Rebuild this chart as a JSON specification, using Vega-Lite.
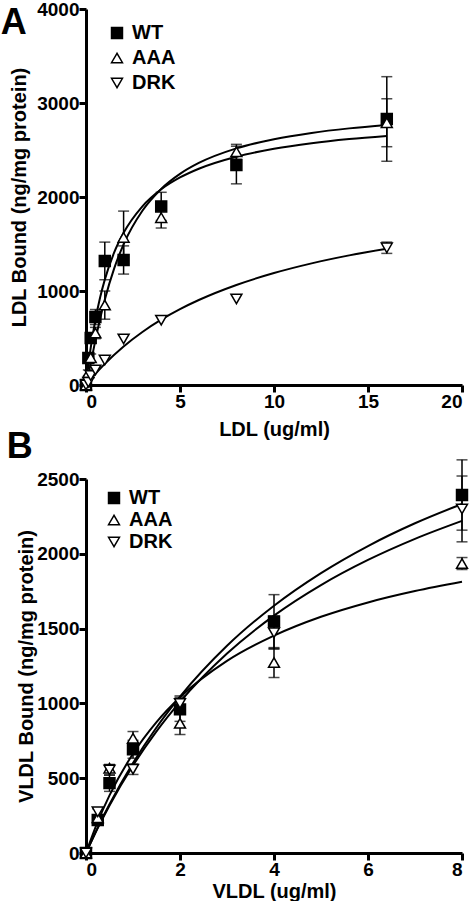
{
  "$schema": "https://vega.github.io/schema/vega-lite/v6.json",
  "padding": {"top": 0, "left": 0, "right": 0, "bottom": 0},
  "background": "white",
  "spacing": -10,
  "align": "none",
  "center": false,
  "config": {
    "font": "Liberation Sans",
    "view": {"stroke": null},
    "axis": {
      "grid": false,
      "format": "d",
      "domainColor": "black",
      "domainWidth": 3,
      "tickColor": "black",
      "tickWidth": 3,
      "tickSize": 7,
      "labelFont": "Liberation Sans",
      "labelFontWeight": "bold",
      "labelFontSize": 19,
      "labelColor": "black",
      "labelPadding": 0,
      "titleFont": "Liberation Sans",
      "titleFontWeight": "bold",
      "titleFontSize": 20,
      "titleColor": "black"
    },
    "legend": {
      "labelFont": "Liberation Sans",
      "labelFontSize": 20,
      "labelFontWeight": "bold",
      "labelColor": "black",
      "symbolSize": 120,
      "symbolStrokeWidth": 1.5,
      "padding": 0,
      "labelOffset": 5
    },
    "title": {"font": "Liberation Sans", "fontWeight": "bold", "color": "black"}
  },
  "resolve": {
    "scale": {"shape": "independent", "fill": "independent", "stroke": "independent"},
    "legend": {"shape": "independent", "fill": "independent", "stroke": "independent"}
  },
  "vconcat": [
    {
      "width": 376,
      "height": 376,
      "title": {"text": "A", "anchor": "start", "frame": "bounds", "fontSize": 36, "dx": -9, "dy": 42, "offset": 0},
      "encoding": {
        "x": {"field": "x", "type": "quantitative", "scale": {"domain": [0, 20], "nice": false}, "axis": {"values": [0, 5, 10, 15, 20], "title": "LDL (ug/ml)", "titlePadding": 8}},
        "y": {"field": "y", "type": "quantitative", "scale": {"domain": [0, 4000], "nice": false}, "axis": {"values": [0, 1000, 2000, 3000, 4000], "title": "LDL Bound (ng/mg protein)", "titlePadding": 7}}
      },
      "layer": [
        {
          "data": {"values": [
            {"fit": "WT", "x": 0, "y": 0}, {"fit": "WT", "x": 0.25, "y": 394}, {"fit": "WT", "x": 0.5, "y": 694}, {"fit": "WT", "x": 0.75, "y": 930}, {"fit": "WT", "x": 1, "y": 1121}, {"fit": "WT", "x": 1.5, "y": 1410}, {"fit": "WT", "x": 2, "y": 1619}, {"fit": "WT", "x": 3, "y": 1901}, {"fit": "WT", "x": 4, "y": 2082}, {"fit": "WT", "x": 5, "y": 2208}, {"fit": "WT", "x": 6, "y": 2301}, {"fit": "WT", "x": 8, "y": 2429}, {"fit": "WT", "x": 10, "y": 2513}, {"fit": "WT", "x": 12, "y": 2572}, {"fit": "WT", "x": 14, "y": 2616}, {"fit": "WT", "x": 16, "y": 2650},
            {"fit": "AAA", "x": 0, "y": 0}, {"fit": "AAA", "x": 0.25, "y": 228}, {"fit": "AAA", "x": 0.5, "y": 477}, {"fit": "AAA", "x": 0.75, "y": 705}, {"fit": "AAA", "x": 1, "y": 908}, {"fit": "AAA", "x": 1.5, "y": 1241}, {"fit": "AAA", "x": 2, "y": 1497}, {"fit": "AAA", "x": 3, "y": 1854}, {"fit": "AAA", "x": 4, "y": 2086}, {"fit": "AAA", "x": 5, "y": 2246}, {"fit": "AAA", "x": 6, "y": 2362}, {"fit": "AAA", "x": 8, "y": 2517}, {"fit": "AAA", "x": 10, "y": 2615}, {"fit": "AAA", "x": 12, "y": 2682}, {"fit": "AAA", "x": 14, "y": 2730}, {"fit": "AAA", "x": 16, "y": 2766},
            {"fit": "DRK", "x": 0, "y": 0}, {"fit": "DRK", "x": 0.25, "y": 61}, {"fit": "DRK", "x": 0.5, "y": 118}, {"fit": "DRK", "x": 1, "y": 225}, {"fit": "DRK", "x": 2, "y": 410}, {"fit": "DRK", "x": 3, "y": 564}, {"fit": "DRK", "x": 4, "y": 695}, {"fit": "DRK", "x": 5, "y": 807}, {"fit": "DRK", "x": 6, "y": 904}, {"fit": "DRK", "x": 8, "y": 1064}, {"fit": "DRK", "x": 10, "y": 1191}, {"fit": "DRK", "x": 12, "y": 1294}, {"fit": "DRK", "x": 14, "y": 1379}, {"fit": "DRK", "x": 16, "y": 1450}
          ]},
          "mark": {"type": "line", "stroke": "black", "strokeWidth": 2, "interpolate": "monotone"},
          "encoding": {"detail": {"field": "fit", "type": "nominal"}}
        },
        {
          "data": {"name": "ptsA"},
          "transform": [{"filter": "datum.err > 0"}],
          "mark": {"type": "errorbar", "ticks": true, "size": 11, "thickness": 1.5, "color": "black"},
          "encoding": {"yError": {"field": "err"}}
        },
        {
          "data": {"name": "ptsA"},
          "mark": {"type": "point", "filled": true, "strokeWidth": 1.5, "opacity": 1, "size": 120},
          "encoding": {
            "shape": {"field": "g", "type": "nominal", "scale": {"domain": ["WT", "AAA", "DRK"], "range": ["square", "triangle-up", "triangle-down"]}, "legend": {"title": null, "orient": "none", "legendX": 21, "legendY": 14, "rowPadding": 5}},
            "fill": {"field": "g", "type": "nominal", "scale": {"domain": ["WT", "AAA", "DRK"], "range": ["black", "white", "white"]}, "legend": {"title": null, "orient": "none", "legendX": 21, "legendY": 14, "rowPadding": 5}},
            "stroke": {"field": "g", "type": "nominal", "scale": {"domain": ["WT", "AAA", "DRK"], "range": ["black", "black", "black"]}, "legend": {"title": null, "orient": "none", "legendX": 21, "legendY": 14, "rowPadding": 5}}
          }
        }
      ]
    },
    {
      "width": 376,
      "height": 374,
      "title": {"text": "B", "anchor": "start", "frame": "bounds", "fontSize": 36, "dx": -10, "dy": 7, "offset": 0},
      "encoding": {
        "x": {"field": "x", "type": "quantitative", "scale": {"domain": [0, 8], "nice": false}, "axis": {"values": [0, 2, 4, 6, 8], "title": "VLDL (ug/ml)", "titlePadding": 2}},
        "y": {"field": "y", "type": "quantitative", "scale": {"domain": [0, 2500], "nice": false}, "axis": {"values": [0, 500, 1000, 1500, 2000, 2500], "title": "VLDL Bound (ng/mg protein)", "titlePadding": 0}}
      },
      "layer": [
        {
          "data": {"values": [
            {"fit": "WT", "x": 0, "y": 0}, {"fit": "WT", "x": 0.25, "y": 170}, {"fit": "WT", "x": 0.5, "y": 326}, {"fit": "WT", "x": 1, "y": 602}, {"fit": "WT", "x": 1.5, "y": 839}, {"fit": "WT", "x": 2, "y": 1045}, {"fit": "WT", "x": 3, "y": 1385}, {"fit": "WT", "x": 4, "y": 1653}, {"fit": "WT", "x": 5, "y": 1871}, {"fit": "WT", "x": 6, "y": 2052}, {"fit": "WT", "x": 7, "y": 2204}, {"fit": "WT", "x": 8, "y": 2333},
            {"fit": "DRK", "x": 0, "y": 0}, {"fit": "DRK", "x": 0.25, "y": 166}, {"fit": "DRK", "x": 0.5, "y": 318}, {"fit": "DRK", "x": 1, "y": 585}, {"fit": "DRK", "x": 1.5, "y": 813}, {"fit": "DRK", "x": 2, "y": 1010}, {"fit": "DRK", "x": 3, "y": 1333}, {"fit": "DRK", "x": 4, "y": 1587}, {"fit": "DRK", "x": 5, "y": 1791}, {"fit": "DRK", "x": 6, "y": 1959}, {"fit": "DRK", "x": 7, "y": 2100}, {"fit": "DRK", "x": 8, "y": 2220},
            {"fit": "AAA", "x": 0, "y": 0}, {"fit": "AAA", "x": 0.25, "y": 209}, {"fit": "AAA", "x": 0.5, "y": 385}, {"fit": "AAA", "x": 1, "y": 664}, {"fit": "AAA", "x": 1.5, "y": 875}, {"fit": "AAA", "x": 2, "y": 1041}, {"fit": "AAA", "x": 3, "y": 1284}, {"fit": "AAA", "x": 4, "y": 1453}, {"fit": "AAA", "x": 5, "y": 1579}, {"fit": "AAA", "x": 6, "y": 1675}, {"fit": "AAA", "x": 7, "y": 1751}, {"fit": "AAA", "x": 8, "y": 1813}
          ]},
          "mark": {"type": "line", "stroke": "black", "strokeWidth": 2, "interpolate": "monotone"},
          "encoding": {"detail": {"field": "fit", "type": "nominal"}}
        },
        {
          "data": {"name": "ptsB"},
          "transform": [{"filter": "datum.err > 0"}],
          "mark": {"type": "errorbar", "ticks": true, "size": 11, "thickness": 1.5, "color": "black"},
          "encoding": {"yError": {"field": "err"}}
        },
        {
          "data": {"name": "ptsB"},
          "mark": {"type": "point", "filled": true, "strokeWidth": 1.5, "opacity": 1, "size": 120},
          "encoding": {
            "shape": {"field": "g", "type": "nominal", "scale": {"domain": ["WT", "AAA", "DRK"], "range": ["square", "triangle-up", "triangle-down"]}, "legend": {"title": null, "orient": "none", "legendX": 18, "legendY": 9, "rowPadding": 2}},
            "fill": {"field": "g", "type": "nominal", "scale": {"domain": ["WT", "AAA", "DRK"], "range": ["black", "white", "white"]}, "legend": {"title": null, "orient": "none", "legendX": 18, "legendY": 9, "rowPadding": 2}},
            "stroke": {"field": "g", "type": "nominal", "scale": {"domain": ["WT", "AAA", "DRK"], "range": ["black", "black", "black"]}, "legend": {"title": null, "orient": "none", "legendX": 18, "legendY": 9, "rowPadding": 2}}
          }
        }
      ]
    }
  ],
  "datasets": {
    "ptsA": [
      {"g": "WT", "x": 0, "y": 0, "err": 0}, {"g": "WT", "x": 0.125, "y": 287, "err": 40}, {"g": "WT", "x": 0.25, "y": 500, "err": 50}, {"g": "WT", "x": 0.5, "y": 723, "err": 80}, {"g": "WT", "x": 1, "y": 1320, "err": 200}, {"g": "WT", "x": 2, "y": 1330, "err": 150}, {"g": "WT", "x": 4, "y": 1900, "err": 150}, {"g": "WT", "x": 8, "y": 2340, "err": 200}, {"g": "WT", "x": 16, "y": 2830, "err": 450},
      {"g": "AAA", "x": 0, "y": 0, "err": 0}, {"g": "AAA", "x": 0.125, "y": 130, "err": 30}, {"g": "AAA", "x": 0.25, "y": 290, "err": 40}, {"g": "AAA", "x": 0.5, "y": 553, "err": 60}, {"g": "AAA", "x": 1, "y": 850, "err": 150}, {"g": "AAA", "x": 2, "y": 1570, "err": 280}, {"g": "AAA", "x": 4, "y": 1780, "err": 110}, {"g": "AAA", "x": 8, "y": 2480, "err": 80}, {"g": "AAA", "x": 16, "y": 2790, "err": 255},
      {"g": "DRK", "x": 0, "y": 0, "err": 0}, {"g": "DRK", "x": 0.125, "y": 30, "err": 0}, {"g": "DRK", "x": 0.25, "y": 100, "err": 0}, {"g": "DRK", "x": 0.5, "y": 160, "err": 0}, {"g": "DRK", "x": 1, "y": 265, "err": 0}, {"g": "DRK", "x": 2, "y": 490, "err": 0}, {"g": "DRK", "x": 4, "y": 690, "err": 0}, {"g": "DRK", "x": 8, "y": 915, "err": 0}, {"g": "DRK", "x": 16, "y": 1460, "err": 60}
    ],
    "ptsB": [
      {"g": "WT", "x": 0, "y": 0, "err": 0}, {"g": "WT", "x": 0.25, "y": 220, "err": 30}, {"g": "WT", "x": 0.5, "y": 467, "err": 55}, {"g": "WT", "x": 1, "y": 693, "err": 60}, {"g": "WT", "x": 2, "y": 960, "err": 80}, {"g": "WT", "x": 4, "y": 1547, "err": 180}, {"g": "WT", "x": 8, "y": 2393, "err": 235},
      {"g": "AAA", "x": 0, "y": 0, "err": 0}, {"g": "AAA", "x": 0.25, "y": 235, "err": 20}, {"g": "AAA", "x": 0.5, "y": 567, "err": 25}, {"g": "AAA", "x": 1, "y": 767, "err": 45}, {"g": "AAA", "x": 2, "y": 867, "err": 75}, {"g": "AAA", "x": 4, "y": 1273, "err": 100}, {"g": "AAA", "x": 8, "y": 1935, "err": 40},
      {"g": "DRK", "x": 0, "y": 0, "err": 0}, {"g": "DRK", "x": 0.25, "y": 275, "err": 20}, {"g": "DRK", "x": 0.5, "y": 555, "err": 35}, {"g": "DRK", "x": 1, "y": 560, "err": 35}, {"g": "DRK", "x": 2, "y": 1000, "err": 50}, {"g": "DRK", "x": 4, "y": 1473, "err": 110}, {"g": "DRK", "x": 8, "y": 2300, "err": 220}
    ]
  }
}
